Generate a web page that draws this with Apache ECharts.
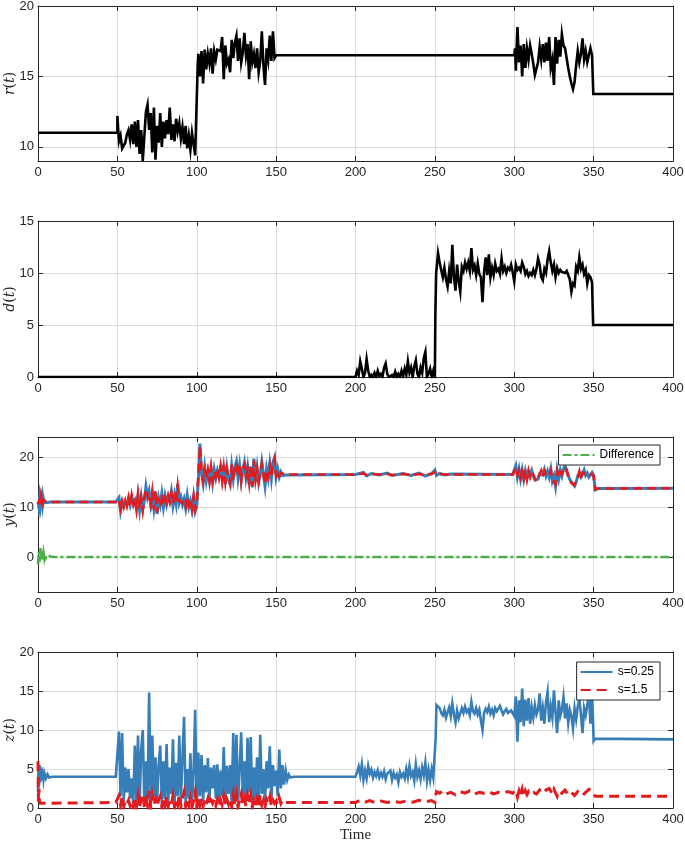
<!DOCTYPE html>
<html><head><meta charset="utf-8">
<script src="https://cdn.jsdelivr.net/npm/echarts@6/dist/echarts.min.js"></script>
<style>html,body{margin:0;padding:0;background:#fff}#c{width:685px;height:843px}</style>
</head><body><div id="c"></div>
<script>
// ---------- data (time, value) ----------
const xTicks = [0, 50, 100, 150, 200, 250, 300, 350, 400];
const rTicks = [10, 15, 20];
const dTicks = [0, 5, 10, 15];
const yTicks = [0, 10, 20];
const zTicks = [0, 5, 10, 15, 20];

// r(t)
const rStart = [[0, 11.0], [50, 11.0]];
const rNoise1 = [12.2,10.4,10.8,9.9,10.1,10.3,10.9,11.2,10.5,11.6,10.2,11.8,10.0,11.9,9.5,11.2,9.0,10.8,12.5,13.0,11.2,12.4,9.6,12.8,9.1,11.5,10.3,12.4,10.0,11.8,10.6,11.9,10.9,12.8,10.5,11.6,10.4,12.0,11.1,11.7,10.6,11.4,10.2,11.5,9.9,10.8,9.8,11.0,10.2,9.4]; // t=50..99
const rJump1 = [[100, 9.3], [100.6, 15.8]];
const rNoise2 = [16.6,15.0,16.8,14.5,16.9,15.5,16.6,15.9,17.0,15.2,16.8,16.2,16.9,17.0,16.8,17.8,14.8,17.2,15.9,16.2,15.3,17.6,16.3,17.4,17.9,16.1,17.7,16.0,16.7,18.1,16.5,17.3,14.8,17.5,16.0,16.6,15.6,17.0,15.3,16.1,18.2,15.8,14.4,17.0,16.2,17.9,16.1,18.2,16.3,16.5]; // t=101..150
const rMid = [[300, 16.5], [300.5, 17.0]];
const rNoise3 = [15.4,18.5,16.0,17.2,15.0,17.3,15.6,17.0,16.2,17.2,16.6,15.9,15.1,15.0,16.0,17.1,16.2,17.3,16.0,17.4,16.1,17.8,15.6,16.2,14.4,17.8,15.9,17.6,16.4,18.0,17.2,17.0,16.3,15.6,15.0,14.5,14.1,14.6,15.8,16.8,16.0,16.6,17.7,16.2,16.8,16.0,16.0,17.0,16.5]; // t=301..349
const rEnd = [[349.8, 13.75], [400, 13.75]];

// d(t)
const dStart = [[0, 0], [200, 0]];
const dNoise1 = [0.6,0.2,1.5,0.8,0.0,0.4,1.7,0.6,0.0,0.2,0.0,0.4,0.0,0.6,0.1,0.3,0.0,0.9,1.3,0.3,0.0,0.0,0.2,0.0,0.5,0.0,0.3,0.0,0.6,0.1,0.8,0.2,1.5,0.4,0.9,0.0,1.0,1.6,0.3,0.0,0.9,0.4,1.8,2.4,0.0,0.3,0.8,0.0,0.6,0.0]; // t=201..250
const dJump = [[250.3, 6.0], [250.8, 10.0]];
const dNoise2 = [10.3,11.9,11.0,10.3,9.6,10.5,9.4,8.7,10.2,9.0,12.7,9.6,8.3,10.8,9.2,8.2,10.6,10.2,11.0,10.4,11.0,10.2,12.4,10.3,10.7,9.8,10.9,9.9,9.6,7.2,10.1,11.5,9.8,11.8,9.6,10.5,9.8,10.9,10.2,10.4,9.9,11.4,10.2,10.6,10.0,10.5,10.3,10.8,10.1,9.2,10.8,10.3,10.5,10.2,11.0,10.6,9.9,10.2,9.7,10.0,9.8,10.3,9.8,10.4,11.4,10.8,9.6,9.3,10.4,10.0,11.3,12.1,11.0,10.2,10.8,9.6,10.5,10.0,10.3,10.1,10.2,10.0,10.2,9.8,9.4,8.2,9.0,8.8,10.6,10.2,11.5,10.4,10.8,9.9,10.3,9.0,9.8,9.6,9.1]; // t=251..349
const dEnd = [[349.7, 5.0], [400, 5.0]];

// y(t), s=0.25 (blue) and s=1.5 (red)
const yBStart = [[0,11.0],[0.5,10.0],[1,11.8],[1.5,10.4],[2,12.0],[2.5,12.6],[3,10.5],[3.5,11.6],[4,10.9],[5,11.3],[6,10.9],[7,11.1],[8,11.0],[49,11.0]];
const yRStart = [[0,10.6],[0.5,10.3],[1,11.5],[1.5,10.1],[2,12.3],[2.5,12.4],[3,10.8],[3.5,11.4],[4,11.1],[5,11.1],[6,11.0],[7,11.0],[8,11.0],[49,11.0]];
const yBNoise1 = [11.0,11.9,9.2,10.9,10.2,11.0,10.5,11.6,10.4,12.0,10.8,11.4,9.8,12.3,9.4,12.0,9.6,11.3,14.1,12.0,13.2,10.6,12.6,9.8,12.9,8.6,11.8,10.4,12.7,10.0,12.2,10.5,12.0,11.2,13.1,10.3,12.4,10.6,14.6,10.9,12.0,10.5,11.6,9.8,12.3,10.0,11.2,9.4,11.8,9.1,10.2,15.5,22.7,16.8,14.8,17.9,15.2,17.0,15.4,17.6,14.9,17.5,15.8,17.3,16.2,17.8,15.6,18.4,14.6,17.8,15.5,14.5,18.2,15.6,18.0,19.1,15.8,18.3,15.4,17.4,18.9,15.9,18.0,14.6,18.1,13.9,19.7,15.0,17.8,14.9,16.6,19.0,19.3,14.2,17.6,15.8,18.6,15.7,18.9,19.9,16.0,17.6,16.0,17.0,16.3,16.7,16.4,16.5]; // t=50..157
const yRNoise1 = [11.0,11.5,9.6,11.2,10.0,11.3,10.2,11.9,10.1,12.3,10.5,11.8,9.5,12.6,9.7,11.7,9.3,11.8,13.6,12.4,12.8,10.2,13.0,9.5,13.3,8.9,11.4,10.8,12.4,10.3,11.8,10.9,12.3,11.0,12.7,10.7,12.1,10.9,14.2,11.3,11.7,10.8,11.3,10.1,12.0,10.4,11.6,9.7,12.2,9.5,10.8,16.3,22.2,17.3,15.2,17.4,15.6,17.4,15.1,17.9,15.3,17.1,16.1,17.7,15.9,18.1,15.3,18.0,15.0,17.4,15.9,14.8,18.5,15.3,17.6,18.8,16.2,18.6,15.1,17.8,18.5,16.3,17.7,14.9,18.4,14.2,19.3,15.4,17.5,15.2,16.9,18.6,19.0,14.6,17.3,16.1,18.3,16.0,18.5,19.6,16.3,17.3,16.2,16.8,16.5,16.6,16.5,16.5]; // t=50..157
const yBRipple = [[200,16.5],[205,16.9],[207,16.2],[210,16.7],[215,16.4],[220,16.8],[223,16.3],[230,16.7],[235,16.3],[240,16.8],[244,16.2],[248,16.7],[250,17.4],[251,16.3],[253,16.7],[256,16.4],[260,16.6],[299,16.5]];
const yRRipple = [[200,16.5],[205,16.7],[207,16.4],[210,16.6],[215,16.5],[220,16.6],[223,16.4],[230,16.6],[235,16.4],[240,16.6],[244,16.4],[248,16.6],[250,17.0],[251,16.5],[253,16.6],[256,16.5],[260,16.5],[299,16.5]];
const yBNoise2 = [16.5,18.3,16.0,17.6,15.6,17.4,15.5,17.2,15.8,17.0,16.3,17.3,16.2,15.4,15.3,15.6,16.6,17.0,16.4,17.5,16.2,17.2,16.0,17.6,15.2,16.2,14.2,17.4,15.6,17.3,16.2,17.6,18.3,17.2,16.3,15.5,15.0,14.6,14.2,15.0,16.2,16.8,16.0,16.6,17.4,16.3,16.8,16.0,16.4,16.9,16.4,13.4,13.8,13.7]; // t=300..353
const yRNoise2 = [16.5,17.9,16.4,17.3,15.9,17.1,15.8,17.5,15.5,17.3,16.0,17.0,16.5,15.7,15.1,15.9,16.3,17.3,16.1,17.2,16.5,16.9,16.3,17.3,15.5,15.9,14.5,17.1,15.9,17.0,16.5,17.3,18.0,17.5,16.0,15.8,14.8,14.9,14.4,15.3,15.9,17.1,15.7,16.9,17.1,16.6,16.5,16.3,16.1,16.6,16.0,13.6,13.7,13.7]; // t=300..353
const yEnd = [[400, 13.75]];
const diffData = [[0,-1.5],[0.5,1.0],[1,-1.0],[1.5,1.8],[2,-0.5],[2.5,1.2],[3,-0.6],[3.5,0.8],[4,-0.3],[4.5,0.5],[5,-0.2],[6,0.3],[7,-0.1],[8,0.1],[10,0],[400,0]];

// z(t)
const zBStart = [[0,2.0],[0.3,5.0],[0.7,3.0],[1,5.5],[1.5,3.3],[2,5.2],[2.5,3.6],[3,4.8],[3.5,3.7],[4,4.5],[5,3.8],[6,4.3],[7,3.9],[8,4.1],[9,4.0],[49,4.0]];
const zBNoise1 = [4.0,9.8,1.5,9.6,0.8,5.2,2.0,5.0,1.2,3.8,0.5,8.0,1.0,9.3,0.3,7.5,10.0,0.4,6.0,1.0,14.8,0.3,9.3,1.5,6.5,0.8,5.5,8.0,0.5,6.0,1.2,8.2,0.6,5.2,1.8,8.8,0.4,5.8,1.5,9.3,0.8,6.5,11.7,0.5,5.0,1.2,7.0,0.3,4.5,12.6,0.0,7.1,1.5,6.8,0.8,5.5,2.0,6.4,1.0,5.2,2.5,5.5,1.2,5.6,0.8,4.8,1.5,7.8,0.5,5.4,1.8,5.5,0.6,9.6,1.2,9.4,0.4,5.0,9.7,1.5,6.0,0.8,9.0,2.0,9.1,0.5,5.2,1.2,6.5,0.6,9.4,1.8,5.0,0.8,6.0,2.5,7.9,1.0,5.5,2.8,4.8,1.5,7.5,2.5,5.5,3.0,4.8,3.6,4.3,3.9,4.1,4.0]; // t=50..161
const zBNoise2 = [4.0,4.6,5.3,4.2,5.6,3.6,4.8,3.8,5.4,4.4,4.9,3.9,4.6,4.1,4.8,3.9,4.5,4.0,4.7,3.7,4.4,4.2,4.8,3.6,4.5,3.9,4.3,3.3,4.6,4.0,4.4,3.8,5.0,3.9,5.4,4.1,4.6,3.5,5.6,4.0,4.8,3.7,5.2,4.2,5.8,3.5,4.9,3.6,5.0,3.9,4.0]; // t=200..250
const zBJump = [[250.5, 9.0]];
const zBNoise3 = [13.2,13.4,12.8,12.2,11.9,12.6,11.6,12.3,12.9,11.8,13.4,12.0,11.0,12.5,11.5,11.4,12.8,12.2,13.0,12.3,12.6,11.9,13.6,12.4,12.1,12.8,12.0,12.6,11.2,10.0,12.2,12.7,12.3,13.0,12.1,12.6,11.9,12.8,12.4,12.2,13.1,12.5,12.0,12.4,12.7,12.2,12.0,12.5,12.3,11.8,14.3,8.5,13.8,11.0,15.3,10.5,13.9,11.2,14.1,10.8,12.9,11.6,13.2,12.0,12.6,14.7,11.2,12.8,10.8,13.6,14.9,11.0,13.0,11.6,15.1,12.2,9.6,13.8,11.8,12.6,14.2,11.5,13.4,10.9,12.6,11.8,10.2,12.8,11.4,13.0,14.0,12.0,9.6,12.8,11.9,13.2,14.6,10.8,14.5]; // t=251..349
const zBEnd = [[349.5, 12.0], [350, 8.6], [351, 8.9], [352, 8.8], [400, 8.8]];

const zRStart = [[0,6.0],[0.3,0.8],[0.6,2.5],[1,0.9],[1.5,0.6],[2,0.75],[49,0.7]];
const zRNoise1 = [0.7,1.6,0.3,1.5,0.2,0.9,0.5,1.0,0.3,0.8,0.1,1.4,0.2,1.6,0.0,1.3,1.8,0.1,1.1,0.3,2.2,0.0,1.6,0.4,1.2,0.2,1.0,1.5,0.1,1.1,0.3,1.5,0.2,1.0,0.5,1.6,0.1,1.1,0.4,1.7,0.2,1.2,2.0,0.2,1.0,0.3,1.3,0.1,0.9,2.0,0.0,1.4,0.4,1.3,0.2,1.1,0.5,1.2,0.3,1.0,0.6,1.1,0.3,1.1,0.2,1.0,0.4,1.5,0.2,1.1,0.5,1.1,0.2,1.7,0.3,1.7,0.1,1.0,1.8,0.4,1.2,0.2,1.6,0.5,1.6,0.1,1.0,0.3,1.2,0.2,1.7,0.4,1.0,0.2,1.1,0.6,1.4,0.3,1.0,0.6,0.9,0.4,1.3,0.6,1.0,0.7,0.8,0.7]; // t=50..157
const zRRest = [[200,0.7],[203,1.0],[206,0.75],[209,0.95],[212,0.7],[216,0.9],[220,0.7],[224,0.85],[228,0.7],[232,0.9],[236,0.75],[240,1.0],[244,0.8],[248,0.95],[250,0.7],[250.5,1.6],[251,2.1],[253,1.9],[255,2.2],[257,1.8],[260,2.0],[263,1.7],[266,2.1],[269,1.9],[272,2.2],[275,1.8],[278,2.0],[281,1.9],[284,2.1],[287,1.8],[290,2.0],[293,1.9],[296,2.1],[299,1.9],[300,1.7],[301,2.3],[302,1.4],[303,2.2],[304,1.6],[305,2.4],[306,1.5],[307,2.2],[308,1.7],[309,2.1],[310,1.8],[312,2.0],[314,1.8],[316,2.3],[318,1.9],[320,2.3],[322,2.5],[324,1.8],[325,2.4],[327,1.5],[328,2.2],[330,1.9],[332,2.3],[334,1.7],[336,2.0],[338,1.6],[340,2.1],[341,2.3],[343,1.6],[345,2.0],[347,2.4],[349,2.2],[350,1.8],[351,1.5],[400,1.5]];

// ---------- build series data ----------
function seg(t0, vals) { return vals.map((v, i) => [t0 + i, v]); }
const rData = [].concat(rStart, seg(50, rNoise1), rJump1, seg(101, rNoise2), rMid, seg(301, rNoise3), rEnd);
const dData = [].concat(dStart, seg(201, dNoise1), dJump, seg(251, dNoise2), dEnd);
const yBData = [].concat(yBStart, seg(50, yBNoise1), yBRipple, seg(300, yBNoise2), yEnd);
const yRData = [].concat(yRStart, seg(50, yRNoise1), yRRipple, seg(300, yRNoise2), yEnd);
const zBData = [].concat(zBStart, seg(50, zBNoise1), seg(200, zBNoise2), zBJump, seg(251, zBNoise3), zBEnd);
const zRData = [].concat(zRStart, seg(50, zRNoise1), zRRest);

const BLUE = '#377eb8', RED = '#e41a1c', GREEN = '#4daf4a';
const AX = '#262626';
const tickFont = { color: AX, fontFamily: 'Liberation Sans, Arial', fontSize: 13 };

const grids = [
  { left: 38, right: 12, top: 6, height: 155 },
  { left: 38, right: 12, top: 221, height: 156 },
  { left: 38, right: 12, top: 437, height: 155 },
  { left: 38, right: 12, top: 652, height: 156 }
].map(g => Object.assign({ outerBoundsMode: 'none', containLabel: false }, g));

const yRanges = [[9, 20, rTicks], [0, 15, dTicks], [-7, 24, yTicks], [0, 20, zTicks]];
const yNames = ['r', 'd', 'y', 'z'];

const xAxes = [], yAxes = [];
for (let i = 0; i < 4; i++) {
  const common = {
    gridIndex: i, type: 'value', min: 0, max: 400, interval: 50,
    axisLine: { show: true, onZero: false, lineStyle: { color: AX, width: 1 } },
    axisTick: { show: true, inside: true, length: 5, lineStyle: { color: AX } }
  };
  xAxes.push(Object.assign({}, common, {
    position: 'bottom',
    axisLabel: Object.assign({ margin: 5, customValues: xTicks }, tickFont),
    splitLine: { show: true, lineStyle: { color: '#dcdcdc', width: 1 } },
    name: i === 3 ? 'Time' : '', nameLocation: 'middle', nameGap: 20, nameMoveOverlap: false,
    nameTextStyle: { fontFamily: 'Liberation Serif, Times New Roman', fontSize: 15, color: AX }
  }));
  xAxes.push(Object.assign({}, common, {
    position: 'top', axisLabel: { show: false }, splitLine: { show: false }
  }));
  const [mn, mx, tv] = yRanges[i];
  const ycommon = {
    gridIndex: i, type: 'value', min: mn, max: mx,
    axisLine: { show: true, onZero: false, lineStyle: { color: AX, width: 1 } },
    axisTick: { show: true, inside: true, length: 5, lineStyle: { color: AX }, customValues: tv }
  };
  yAxes.push(Object.assign({}, ycommon, {
    position: 'left',
    axisLabel: Object.assign({ margin: 4, customValues: tv }, tickFont),
    splitLine: { show: true, lineStyle: { color: '#dcdcdc', width: 1 } },
    name: '{i|' + yNames[i] + '}{n|(}{i|t}{n|)}', nameLocation: 'middle', nameGap: 21, nameRotate: 90,
    nameMoveOverlap: false,
    nameTextStyle: {
      color: AX,
      rich: {
        i: { fontFamily: 'DejaVu Serif', fontStyle: 'italic', fontSize: 14, color: AX },
        n: { fontFamily: 'DejaVu Serif', fontSize: 14, color: AX }
      }
    }
  }));
  yAxes.push(Object.assign({}, ycommon, {
    position: 'right', axisLabel: { show: false }, splitLine: { show: false }
  }));
}

function line(name, data, xi, color, width, type, z) {
  return {
    name, type: 'line', data, xAxisIndex: xi, yAxisIndex: xi,
    showSymbol: false, symbol: 'none', animation: false, clip: true, z: z || 2,
    lineStyle: { color, width, type: type || 'solid', cap: 'butt', join: 'miter' },
    itemStyle: { color }
  };
}

const series = [
  line('r', rData, 0, '#000', 2.6),
  line('d', dData, 2, '#000', 2.6),
  line('y s=0.25', yBData, 4, BLUE, 3),
  line('y s=1.5', yRData, 4, RED, 2.6, [9, 5], 3),
  line('Difference', diffData, 4, GREEN, 2.6, [9, 3, 3, 3], 4),
  line('s=0.25', zBData, 6, BLUE, 2.6),
  line('s=1.5', zRData, 6, RED, 3, [10, 6], 3)
];

const legendCommon = {
  orient: 'vertical', right: 25, backgroundColor: '#fff',
  borderColor: AX, borderWidth: 1, borderRadius: 0, padding: [4, 6, 4, 3],
  itemWidth: 32, itemHeight: 10, itemGap: 6,
  itemStyle: { opacity: 0 },
  textStyle: { fontFamily: 'Liberation Sans, Arial', fontSize: 12, color: '#000' },
  selectedMode: false
};

const chart = echarts.init(document.getElementById('c'), null, { renderer: 'canvas' });
chart.setOption({
  animation: false,
  backgroundColor: '#fff',
  grid: grids,
  xAxis: xAxes,
  yAxis: yAxes,
  legend: [
    Object.assign({}, legendCommon, { top: 445, data: ['Difference'] }),
    Object.assign({}, legendCommon, { top: 662, data: ['s=0.25', 's=1.5'] })
  ],
  series
});
</script></body></html>
